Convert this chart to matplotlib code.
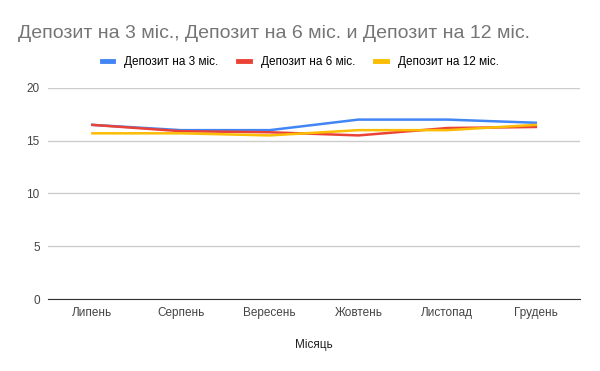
import matplotlib
matplotlib.use("Agg")
import matplotlib.pyplot as plt
import numpy as np

months = ["Липень", "Серпень", "Вересень", "Жовтень", "Листопад", "Грудень"]
dep3 = [16.5, 16.0, 16.0, 17.0, 17.0, 16.7]
dep6 = [16.5, 15.9, 15.8, 15.5, 16.2, 16.3]
dep12 = [15.7, 15.7, 15.5, 16.0, 16.0, 16.5]
labels = ["Депозит на 3 міс.", "Депозит на 6 міс.", "Депозит на 12 міс."]
colors = ["#4285f4", "#ea4335", "#fbbc04"]

plt.rcParams['font.family'] = ['Liberation Sans', 'DejaVu Sans']

fig = plt.figure(figsize=(6, 3.71), dpi=100)
ax = fig.add_axes([0.08, 0.194, 0.887, 0.569])

x = np.arange(len(months))
for vals, lab, c in zip([dep3, dep6, dep12], labels, colors):
    ax.plot(x, vals, color=c, lw=1.8, label=lab)

ax.set_xlim(-0.5, len(months) - 0.5)
ax.set_ylim(0, 20)
ax.set_yticks([0, 5, 10, 15, 20])
ax.set_xticks(x)
ax.set_xticklabels(months)
ax.tick_params(length=0, labelsize=8.5, colors="#444444", pad=6)
ax.grid(axis="y", color="#cccccc", lw=1)
ax.set_axisbelow(True)
for s in ["top", "right", "left"]:
    ax.spines[s].set_visible(False)
ax.spines["bottom"].set_color("#333333")
ax.set_xlabel("Місяць", fontsize=8.5, color="#222222", labelpad=14)

fig.text(0.03, 0.91, "Депозит на 3 міс., Депозит на 6 міс. и Депозит на 12 міс.",
         fontsize=14, color="#757575", va="center")
leg = fig.legend(loc="center", bbox_to_anchor=(0.5, 0.833), ncol=3, frameon=False,
                 fontsize=8.5, handlelength=1.0, columnspacing=1.7, handletextpad=0.9)
for h in leg.get_lines():
    h.set_linewidth(3.5)

fig.savefig("out.png", dpi=100)
